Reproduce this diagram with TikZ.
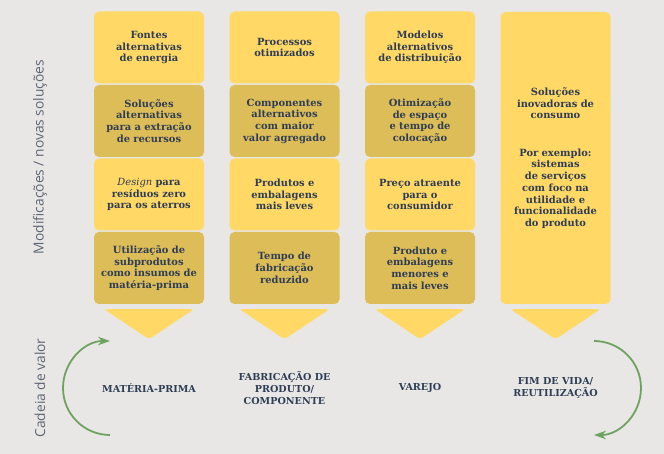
\documentclass[tikz,border=0pt]{standalone}
\usepackage{fontspec}
\setmainfont{DejaVu Serif}
\newfontfamily\sidefont{Open Sans}
\usetikzlibrary{positioning,arrows.meta}
\definecolor{bggrey}{HTML}{E8E7E5}
\definecolor{lightyel}{HTML}{FFD865}
\definecolor{darkyel}{HTML}{DDBD58}
\definecolor{ink}{HTML}{2F3E55}
\definecolor{cyclegreen}{HTML}{6EA35F}
\definecolor{sidegrey}{HTML}{5F6673}
\tikzset{
  box/.style={rounded corners=5pt, minimum width=110pt, minimum height=72pt,
    text width=106pt, inner sep=2pt, align=center, text=ink,
    font=\fontsize{9.9}{11.7}\selectfont\bfseries},
  lightbox/.style={fill=lightyel},
  darkbox/.style={fill=darkyel},
  chev/.style={fill=lightyel, draw=none, rounded corners=3pt},
  stage/.style={align=center, text=ink, font=\fontsize{9.6}{11.7}\selectfont\bfseries},
  side/.style={rotate=90, text=sidegrey, font=\sidefont\fontsize{13.8}{16}\selectfont},
  cyclearrow/.style={draw=cyclegreen, line width=1.8pt, -{Stealth[length=12pt,width=8.5pt]}}
}
\begin{document}
\begin{tikzpicture}[x=1pt,y=-1pt]
\fill[bggrey] (0,0) rectangle (664,454);

% modificacoes por etapa
\foreach \r/\sty/\txt in {1/lightbox/{Fontes\\alternativas\\de energia},
    2/darkbox/{Soluções\\alternativas\\para a extração\\de recursos},
    3/lightbox/{\textmd{\textit{Design}} para\\resíduos zero\\para os aterros},
    4/darkbox/{Utilização de\\subprodutos\\como insumos de\\matéria-prima}}
  \node[box,\sty] (mp\r) at (149,{73.5*\r-26}) {\txt};
\foreach \r/\sty/\txt in {1/lightbox/{Processos\\otimizados},
    2/darkbox/{Componentes\\alternativos\\com maior\\valor agregado},
    3/lightbox/{Produtos e\\embalagens\\mais leves},
    4/darkbox/{Tempo de\\fabricação\\reduzido}}
  \node[box,\sty] (fab\r) at (284.5,{73.5*\r-26}) {\txt};
\foreach \r/\sty/\txt in {1/lightbox/{Modelos\\alternativos\\de distribuição},
    2/darkbox/{Otimização\\de espaço\\e tempo de\\colocação},
    3/lightbox/{Preço atraente\\para o\\consumidor},
    4/darkbox/{Produto e\\embalagens\\menores e\\mais leves}}
  \node[box,\sty] (var\r) at (420,{73.5*\r-26}) {\txt};
\node[box,lightbox,minimum height=292pt] (fim) at (555.5,158)
  {Soluções\\inovadoras de\\consumo\\[2.6em]Por exemplo:\\sistemas\\de serviços\\com foco na\\utilidade e\\funcionalidade\\do produto};

\foreach \c in {mp4,fab4,var4,fim}
  \fill[chev] ([xshift=-45pt,yshift=-5pt]\c.south) -- ([xshift=45pt,yshift=-5pt]\c.south)
    -- ([yshift=-35pt]\c.south) -- cycle;

% cadeia de valor
\node[stage] (smp) at (149,388) {MATÉRIA-PRIMA};
\node[stage] (sfab) at (284.5,388) {FABRICAÇÃO DE\\PRODUTO/\\COMPONENTE};
\node[stage] (svar) at (420,388) {VAREJO};
\node[stage] (sfim) at (555.5,388) {FIM DE VIDA/\\REUTILIZAÇÃO};

\coordinate (inL) at (110,435);
\coordinate (outR) at (594,341);
\draw[cyclearrow] (inL) arc[start angle=270, end angle=90, radius=47pt];
\draw[cyclearrow] (outR) arc[start angle=90, end angle=-90, radius=47pt];

\node[side] (lmod) at (40,157) {Modificações / novas soluções};
\node[side] (lcad) at (40,388) {Cadeia de valor};
\end{tikzpicture}
\end{document}
